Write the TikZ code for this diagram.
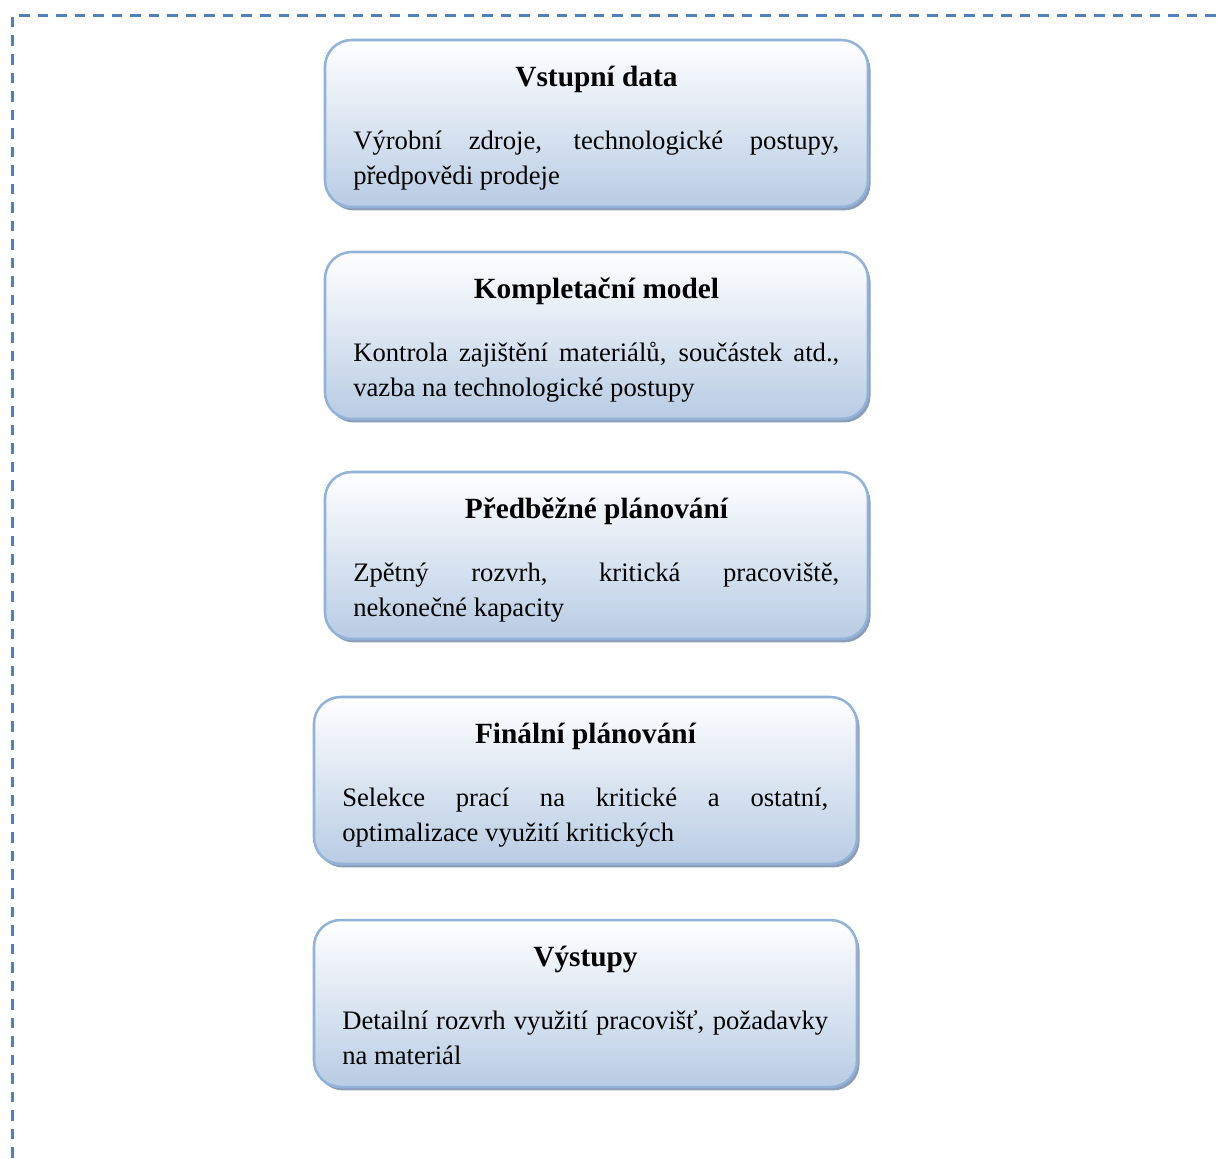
\documentclass[tikz,border=0pt]{standalone}
\usepackage{fontspec}
\setmainfont{Liberation Serif}
\usetikzlibrary{shadows}

\definecolor{framecol}{HTML}{4F81BD}
\definecolor{boxline}{HTML}{93B2D8}
\definecolor{boxbottom}{HTML}{B8CCE4}
\definecolor{boxshadow}{HTML}{8C9DB7}

\tikzset{
  panel/.style={
    rectangle, rounded corners=20pt, draw=boxline, line width=1.9pt,
    top color=white, bottom color=boxbottom, outer sep=0pt,
    minimum width=407.25pt, minimum height=125.25pt,
    drop shadow={shadow xshift=1.9pt, shadow yshift=-2.6pt,
                 fill=boxshadow, opacity=1}},
  headtext/.style={inner sep=0pt, anchor=base,
    font=\fontsize{22}{26}\selectfont\bfseries},
  bodytext/.style={inner sep=0pt, anchor=base west,
    font=\fontsize{20}{26}\selectfont},
  frameline/.style={draw=framecol, line width=2pt,
    dash pattern=on 7.9pt off 6pt}
}

% full-width justified first line of a panel text
\newcommand{\fullline}[1]{\makebox[364.5pt][s]{#1}}

\begin{document}
\begin{tikzpicture}[x=0.75pt, y=-0.75pt]
\useasboundingbox (0,0) rectangle (1221,1158);

% dashed outer frame (top and left edges)
\coordinate (fbl) at (12.5,1158);
\coordinate (ftl) at (12.5,15.5);
\coordinate (ftr) at (1221,15.5);
\draw[frameline] (fbl) -- (ftl) -- (ftr);

% panels
\node[panel] (b1) at (596.5,123.5) {};
\node[panel] (b2) at (596.5,335.5) {};
\node[panel] (b3) at (596.5,555.5) {};
\node[panel] (b4) at (585.5,780.5) {};
\node[panel] (b5) at (585.5,1003.5) {};

% panel 1
\node[headtext] (h1) at ([yshift=-34.5pt]b1.north) {Vstupní data};
\node[bodytext] (p1a) at ([xshift=21pt,yshift=-81.75pt]b1.north west)
  {\fullline{Výrobní zdroje, technologické postupy,}};
\node[bodytext] (p1b) at ([xshift=21pt,yshift=-108pt]b1.north west)
  {předpovědi prodeje};

% panel 2
\node[headtext] (h2) at ([yshift=-34.5pt]b2.north) {Kompletační model};
\node[bodytext] (p2a) at ([xshift=21pt,yshift=-81.75pt]b2.north west)
  {\fullline{Kontrola zajištění materiálů, součástek atd.,}};
\node[bodytext] (p2b) at ([xshift=21pt,yshift=-108pt]b2.north west)
  {vazba na technologické postupy};

% panel 3
\node[headtext] (h3) at ([yshift=-34.5pt]b3.north) {Předběžné plánování};
\node[bodytext] (p3a) at ([xshift=21pt,yshift=-81.75pt]b3.north west)
  {\fullline{Zpětný rozvrh, kritická pracoviště,}};
\node[bodytext] (p3b) at ([xshift=21pt,yshift=-108pt]b3.north west)
  {nekonečné kapacity};

% panel 4
\node[headtext] (h4) at ([yshift=-34.5pt]b4.north) {Finální plánování};
\node[bodytext] (p4a) at ([xshift=21pt,yshift=-81.75pt]b4.north west)
  {\fullline{Selekce prací na kritické a ostatní,}};
\node[bodytext] (p4b) at ([xshift=21pt,yshift=-108pt]b4.north west)
  {optimalizace využití kritických};

% panel 5
\node[headtext] (h5) at ([yshift=-34.5pt]b5.north) {Výstupy};
\node[bodytext] (p5a) at ([xshift=21pt,yshift=-81.75pt]b5.north west)
  {\fullline{Detailní rozvrh využití pracovišť, požadavky}};
\node[bodytext] (p5b) at ([xshift=21pt,yshift=-108pt]b5.north west)
  {na materiál};
\end{tikzpicture}
\end{document}
